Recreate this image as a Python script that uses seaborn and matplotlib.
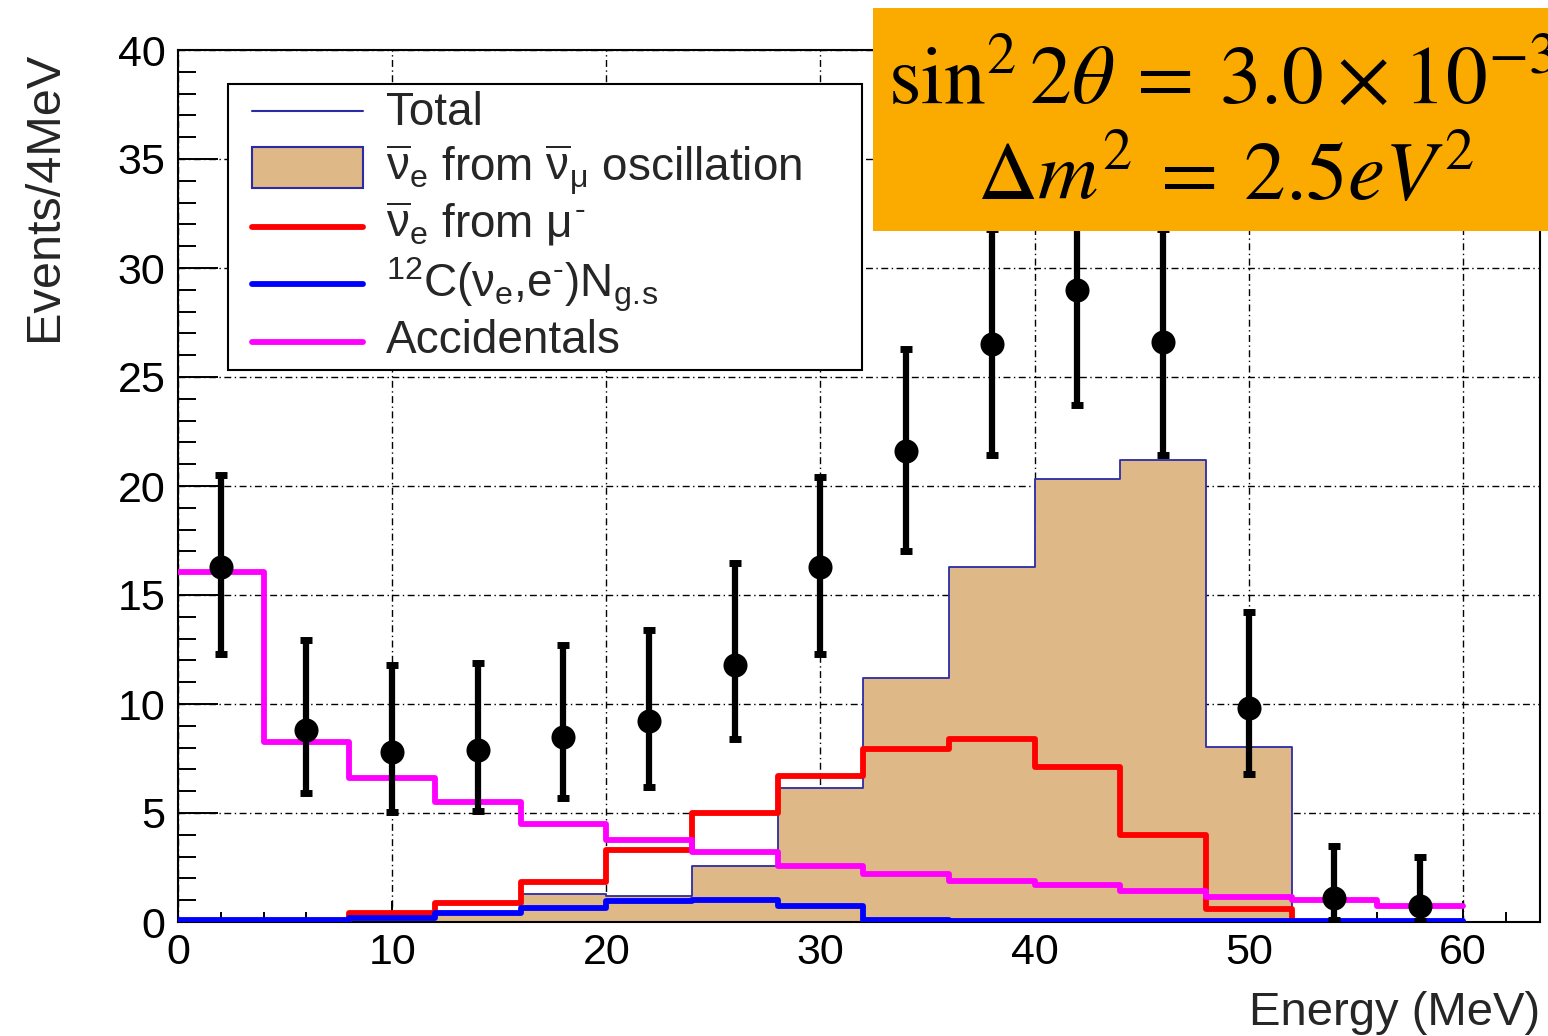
import numpy as np
import pandas as pd
import matplotlib
matplotlib.use("Agg")
import matplotlib.pyplot as plt
import seaborn as sns
from matplotlib.ticker import MultipleLocator
from matplotlib.patches import Rectangle
from matplotlib.lines import Line2D

# ---------------- data ----------------
bin_edges = [0, 4, 8, 12, 16, 20, 24, 28, 32, 36, 40, 44, 48, 52, 56, 60]
bin_centers = [2, 6, 10, 14, 18, 22, 26, 30, 34, 38, 42, 46, 50, 54, 58]
total_osc = [0.05, 0.05, 0.15, 0.45, 1.3, 1.2, 2.55, 6.15, 11.2, 16.3, 20.3, 21.2, 8.05, 0.0, 0.0]
nuebar_mu = [0.02, 0.06, 0.4, 0.85, 1.85, 3.3, 5.0, 6.7, 7.95, 8.4, 7.1, 4.0, 0.6, 0.0, 0.0]
c12_gs = [0.1, 0.1, 0.2, 0.4, 0.65, 0.97, 1.0, 0.75, 0.1, 0.03, 0.03, 0.03, 0.03, 0.03, 0.03]
accidentals = [16.05, 8.25, 6.6, 5.5, 4.5, 3.75, 3.2, 2.57, 2.2, 1.9, 1.68, 1.4, 1.15, 1.0, 0.72]
data_y = [16.3, 8.8, 7.8, 7.9, 8.5, 9.2, 11.8, 16.3, 21.6, 26.5, 29.0, 26.6, 9.8, 1.08, 0.75]
data_lo = [12.3, 5.9, 5.05, 5.1, 5.7, 6.2, 8.4, 12.3, 17.0, 21.4, 23.7, 21.4, 6.8, 0.1, 0.05]
data_hi = [20.5, 12.95, 11.8, 11.9, 12.7, 13.4, 16.45, 20.4, 26.3, 31.8, 34.4, 31.8, 14.2, 3.5, 3.0]

HY = "\u2010"  # short hyphen used as superscript minus
legend_labels = [
    "Total",
    r"$\overline{\nu}_{e}$ from $\overline{\nu}_{\mu}$ oscillation",
    r"$\overline{\nu}_{e}$ from $\mu^{" + HY + r"}$",
    r"$^{12}$C($\nu_{e}$,e$^{" + HY + r"}$)N$_{g.\!s}$",
    "Accidentals",
]
box_line1 = r"$\sin^2 2\theta\:=\:3.0\:\times\:10^{-3}$"
box_line2 = r"$\Delta m^2\:=\:2.5eV^2$"

# ---------------- style ----------------
sns.set_style("white")
plt.rcParams.update({
    "font.family": ["Liberation Sans", "DejaVu Sans"],
    "mathtext.fontset": "custom",
    "mathtext.rm": "Liberation Sans",
    "mathtext.it": "Liberation Sans",
    "mathtext.bf": "Liberation Sans:bold",
    "mathtext.sf": "Liberation Sans",
    "axes.edgecolor": "black",
    "axes.linewidth": 1.5,
})

TAN = "#deb887"
NAVY = "#2b2ba8"
RED = "#ff0000"
BLUE = "#0000ff"
MAGENTA = "#ff00ff"
ORANGE = "#fbab00"

W, H = 1548, 1036
fig = plt.figure(figsize=(W / 100, H / 100), dpi=100)
AX_L, AX_R, AX_T, AX_B = 178, 1540, 50, 922
ax = fig.add_axes([AX_L / W, 1 - AX_B / H, (AX_R - AX_L) / W, (AX_B - AX_T) / H])

def axx(px):
    return (px - AX_L) / (AX_R - AX_L)

def axy(py):
    return (AX_B - py) / (AX_B - AX_T)

# ---------------- histograms ----------------
sns.histplot(x=bin_centers, weights=total_osc, bins=bin_edges, element="step",
             fill=True, color=TAN, edgecolor=NAVY, linewidth=1.3, alpha=1,
             ax=ax, zorder=2)
sns.histplot(x=bin_centers, weights=nuebar_mu, bins=bin_edges, element="step",
             fill=False, color=RED, linewidth=4.2, ax=ax, zorder=3)
sns.histplot(x=bin_centers, weights=c12_gs, bins=bin_edges, element="step",
             fill=False, color=BLUE, linewidth=4.2, ax=ax, zorder=4)
sns.histplot(x=bin_centers, weights=accidentals, bins=bin_edges, element="step",
             fill=False, color=MAGENTA, linewidth=4.2, ax=ax, zorder=5)

# ---------------- data points ----------------
yv = np.array(data_y)
yerr = [yv - np.array(data_lo), np.array(data_hi) - yv]
ax.errorbar(bin_centers, data_y, yerr=yerr, fmt="none", ecolor="black",
            elinewidth=4.5, capsize=4, capthick=5, zorder=9)
sns.scatterplot(x=bin_centers, y=data_y, color="black", s=300, linewidth=0,
                ax=ax, zorder=10)

# ---------------- axes ----------------
ax.set_xlim(0, 63.6)
ax.set_ylim(0, 40)
ax.xaxis.set_major_locator(MultipleLocator(10))
ax.xaxis.set_minor_locator(MultipleLocator(2))
ax.yaxis.set_major_locator(MultipleLocator(5))
ax.yaxis.set_minor_locator(MultipleLocator(1))
ax.tick_params(axis="both", which="both", direction="in", colors="black",
               width=1.4, labelsize=31, top=False, right=False,
               bottom=True, left=True)
ax.tick_params(axis="x", which="major", length=15, pad=8)
ax.tick_params(axis="x", which="minor", length=7.5)
ax.tick_params(axis="y", which="major", length=29, pad=9)
ax.tick_params(axis="y", which="minor", length=13)
ax.set_axisbelow(True)
ax.grid(True, which="major", color="black", linestyle=(0, (5, 2.5, 1, 2.5)),
        linewidth=1.0)
for s in ax.spines.values():
    s.set_visible(True)
    s.set_color("black")
    s.set_linewidth(1.5)

ax.set_xlabel("Energy (MeV)", fontsize=34, loc="right")
ax.xaxis.label.set_va("baseline")
ax.xaxis.set_label_coords(1.0, axy(1025))
ax.set_ylabel("Events/4MeV", fontsize=35, loc="top")
ax.yaxis.label.set_va("baseline")
ax.yaxis.set_label_coords(axx(57), axy(52))

# ---------------- legend (ROOT style box) ----------------
leg_box = Rectangle((axx(228), axy(370)), axx(862) - axx(228), axy(84) - axy(370),
                    transform=ax.transAxes, facecolor="white", edgecolor="black",
                    linewidth=1.5, zorder=20)
ax.add_patch(leg_box)
handle_y = [111, 167, 227, 284, 342]
text_base = [125, 181, 238, 298, 353]
hx0, hx1, tx = 252, 363, 386
ax.add_line(Line2D([axx(hx0), axx(hx1)], [axy(handle_y[0])] * 2, transform=ax.transAxes,
                   color=NAVY, linewidth=1.5, zorder=21))
ax.add_patch(Rectangle((axx(hx0), axy(188)), axx(hx1) - axx(hx0), axy(147) - axy(188),
                       transform=ax.transAxes, facecolor=TAN, edgecolor=NAVY,
                       linewidth=1.5, zorder=21))
for yy, col in zip(handle_y[2:], [RED, BLUE, MAGENTA]):
    ax.add_line(Line2D([axx(hx0), axx(hx1)], [axy(yy)] * 2, transform=ax.transAxes,
                       color=col, linewidth=4.2, zorder=21))
for lab, yb in zip(legend_labels, text_base):
    ax.text(axx(tx), axy(yb), lab, transform=ax.transAxes, fontsize=33,
            ha="left", va="baseline", zorder=22)

# ---------------- orange parameter box ----------------
fig.patches.append(Rectangle((873 / W, 1 - 231 / H), 0.5, (231 - 8) / H,
                             transform=fig.transFigure, facecolor=ORANGE,
                             edgecolor="none", zorder=5))
fig.text(888 / W, 1 - 103 / H, box_line1, fontsize=60, ha="left", va="baseline",
         math_fontfamily="stix", color="black", zorder=6)
fig.text(1226 / W, 1 - 200 / H, box_line2, fontsize=60, ha="center", va="baseline",
         math_fontfamily="stix", color="black", zorder=6)

fig.savefig("out.png", dpi=100)
